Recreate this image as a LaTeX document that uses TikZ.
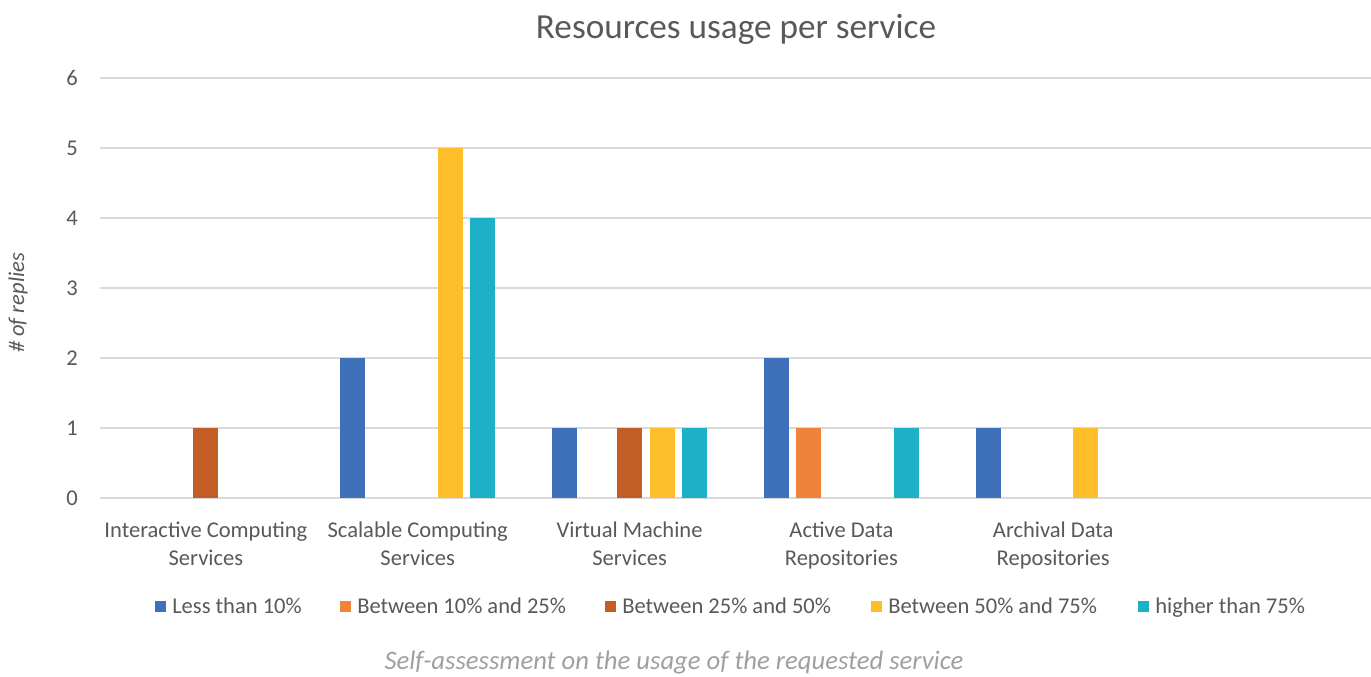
\documentclass[tikz,border=0pt]{standalone}
\usepackage{fontspec}
\setmainfont{Carlito}
\definecolor{txt}{HTML}{595959}
\definecolor{txtlight}{HTML}{A0A0A0}
\definecolor{gridc}{HTML}{D9D9D9}
\definecolor{ser1}{HTML}{3E71B9}
\definecolor{ser2}{HTML}{F0833A}
\definecolor{ser3}{HTML}{C25D25}
\definecolor{ser4}{HTML}{FDBE29}
\definecolor{ser5}{HTML}{1DB0C6}
\begin{document}
\begin{tikzpicture}[x=0.75pt,y=-0.75pt,
  gridline/.style={draw=gridc,line width=1.5pt},
  ticklabel/.style={anchor=east,inner sep=0pt,text=txt,font=\fontsize{16.9}{20}\selectfont},
  catlabel/.style={anchor=base,inner sep=0pt,text=txt,font=\fontsize{16.9}{20}\selectfont},
  legendtext/.style={anchor=base west,inner sep=0pt,text=txt,font=\fontsize{16.9}{20}\selectfont},
  legendkey/.style={minimum size=8.25pt,inner sep=0pt,anchor=center},
  charttitle/.style={anchor=base,inner sep=0pt,text=txt,font=\fontsize{26.4}{30}\selectfont},
  axistitle/.style={inner sep=0pt,text=txt,font=\fontsize{16.9}{20}\selectfont\itshape},
  xtitlestyle/.style={anchor=base,inner sep=0pt,text=txtlight,font=\fontsize{20}{23}\selectfont\itshape}]
\useasboundingbox (0,0) rectangle (1371,676);
\fill[white] (0,0) rectangle (1371,676);

% title
\node[charttitle] (title) at (736,38) {Resources usage per service};

% horizontal grid and value labels
\foreach \v in {0,...,6}{
  \draw[gridline] (100,{498-70*\v}) -- (1371,{498-70*\v});
  \node[ticklabel] (tick\v) at (78,{498-70*\v}) {\v};
}

% bars: category / series / value
\foreach \k/\s/\v in {1/3/1, 2/1/2, 2/4/5, 2/5/4, 3/1/1, 3/3/1, 3/4/1, 3/5/1,
                      4/1/2, 4/2/1, 4/5/1, 5/1/1, 5/4/1}{
  \pgfmathsetmacro{\cx}{100+(\k-0.5)*211.83+(\s-3)*32.5}
  \fill[ser\s] ({\cx-12.5},498) rectangle ({\cx+12.5},{498-70*\v});
}

% category labels
\foreach \k/\la/\lb in {1/Interactive Computing/Services,
                        2/Scalable Computing/Services,
                        3/Virtual Machine/Services,
                        4/Active Data/Repositories,
                        5/Archival Data/Repositories}{
  \node[catlabel] (cat\k a) at ({100+(\k-0.5)*211.83},537) {\la};
  \node[catlabel] (cat\k b) at ({100+(\k-0.5)*211.83},565) {\lb};
}

% axis titles
\node[axistitle,rotate=90] (ytitle) at (18,303) {\# of replies};
\node[xtitlestyle] (xtitle) at (674,669) {Self-assessment on the usage of the requested service};

% legend
\foreach \s/\x/\t in {1/155/Less than 10\%, 2/340/Between 10\% and 25\%,
                      3/605/Between 25\% and 50\%, 4/871/Between 50\% and 75\%,
                      5/1138/higher than 75\%}{
  \node[legendkey,fill=ser\s] (key\s) at ({\x+5.5},606.5) {};
  \node[legendtext] (leg\s) at ({\x+17},613) {\t};
}
\end{tikzpicture}
\end{document}
